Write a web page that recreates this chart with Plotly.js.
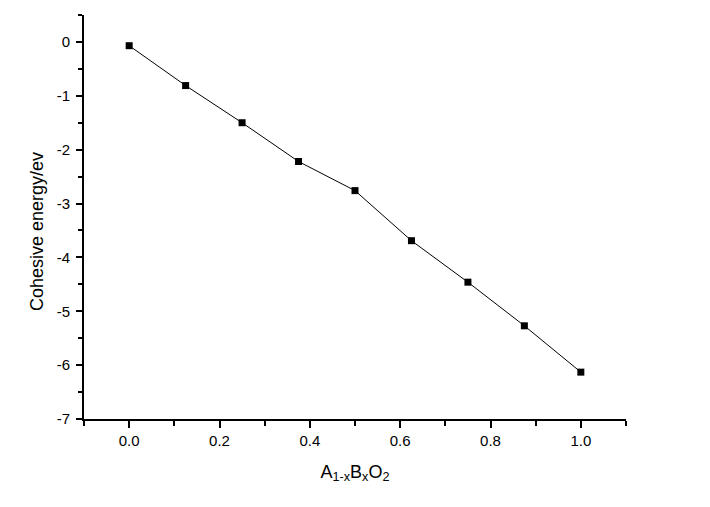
<!DOCTYPE html>
<html>
<head>
<meta charset="utf-8">
<script src="https://cdn.plot.ly/plotly-3.0.1.min.js"></script>
<style>html,body{margin:0;padding:0;background:#fff;}#chart{width:710px;height:507px;}</style>
</head>
<body>
<div id="chart"></div>
<script>
const xValues = [0, 0.125, 0.25, 0.375, 0.5, 0.625, 0.75, 0.875, 1.0];
const cohesiveEnergy = [-0.07, -0.81, -1.50, -2.22, -2.76, -3.69, -4.46, -5.27, -6.13];
const yTickVals = [-7, -6, -5, -4, -3, -2, -1, 0];
const yTickText = ["-7", "-6", "-5", "-4", "-3", "-2", "-1", "0"];
const xTickVals = [0, 0.2, 0.4, 0.6, 0.8, 1.0];
const xTickText = ["0.0", "0.2", "0.4", "0.6", "0.8", "1.0"];
const xTitle = "A<sub>1-x</sub>B<sub>x</sub>O<sub>2</sub>";
const yTitle = "Cohesive energy/ev";

const FONT = "Liberation Sans, Arial, sans-serif";

const trace = {
  x: xValues,
  y: cohesiveEnergy,
  type: "scatter",
  mode: "lines+markers",
  line: {color: "#000", width: 1},
  marker: {symbol: "square", size: 7, color: "#000"},
  hoverinfo: "skip"
};

const axisCommon = {
  showline: true,
  linecolor: "#000",
  linewidth: 2,
  showgrid: false,
  zeroline: false,
  ticks: "outside",
  ticklen: 7,
  tickwidth: 2,
  tickcolor: "#000",
  tickfont: {family: FONT, size: 15, color: "#000"},
  mirror: false
};

const layout = {
  width: 710,
  height: 507,
  margin: {l: 84, r: 84, t: 15, b: 88},
  paper_bgcolor: "#fff",
  plot_bgcolor: "#fff",
  showlegend: false,
  xaxis: Object.assign({}, axisCommon, {
    range: [-0.1, 1.1],
    tickmode: "array",
    tickvals: xTickVals,
    ticktext: xTickText,
    minor: {dtick: 0.1, tick0: 0, ticks: "outside", ticklen: 5, tickwidth: 2, tickcolor: "#000", showgrid: false},
    title: {text: xTitle, font: {family: FONT, size: 18, color: "#000"}, standoff: 17}
  }),
  yaxis: Object.assign({}, axisCommon, {
    range: [-7, 0.5],
    tickmode: "array",
    tickvals: yTickVals,
    ticktext: yTickText,
    ticklen: 6,
    ticklabelstandoff: 3,
    minor: {dtick: 0.5, tick0: 0, ticks: "outside", ticklen: 4, tickwidth: 2, tickcolor: "#000", showgrid: false}
  }),
  annotations: [{
    text: yTitle,
    xref: "paper", yref: "paper",
    x: -0.087, y: 0.465,
    xanchor: "center", yanchor: "middle",
    textangle: -90,
    showarrow: false,
    font: {family: FONT, size: 18, color: "#000"}
  }]
};

Plotly.newPlot("chart", [trace], layout, {staticPlot: true, displayModeBar: false});
</script>
</body>
</html>
